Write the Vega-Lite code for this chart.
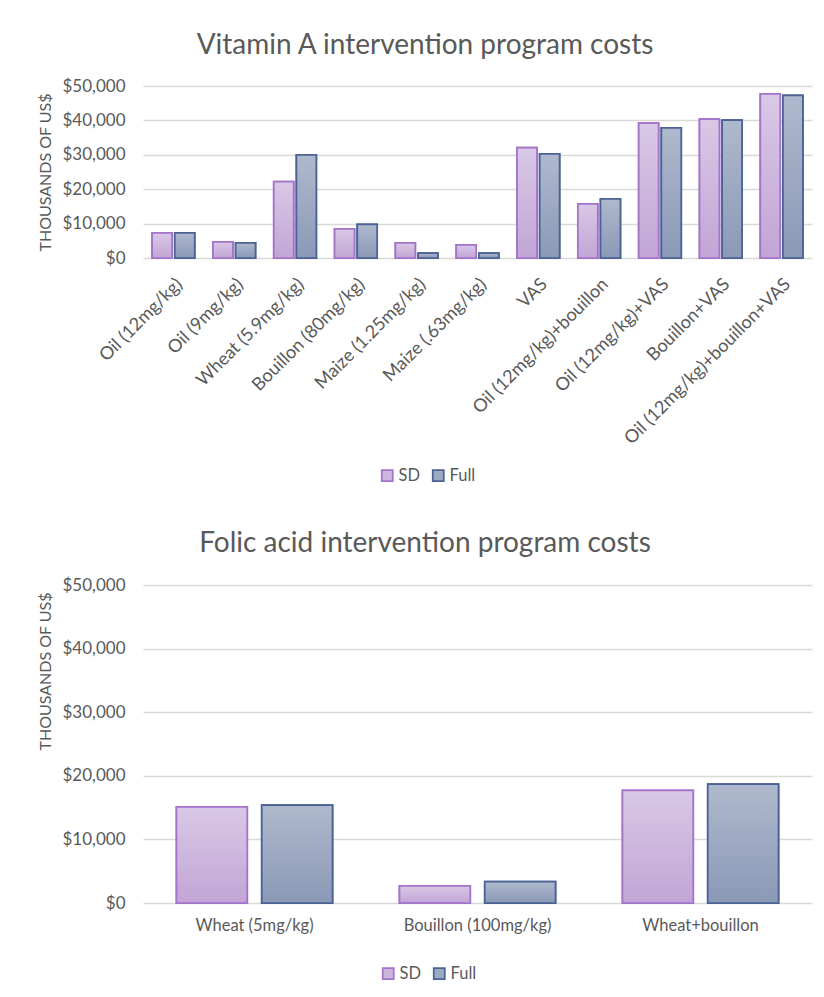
{
  "$schema": "https://vega.github.io/schema/vega-lite/v6.json",
  "background": "white",
  "padding": {"left": 37, "top": 32, "right": 6, "bottom": 8},
  "spacing": 45,
  "config": {
    "font": "Lato",
    "view": {"stroke": null},
    "title": {"color": "#595959", "fontSize": 28, "fontWeight": "normal", "font": "Lato", "anchor": "middle", "frame": "bounds", "baseline": "alphabetic"},
    "axis": {
      "labelColor": "#595959", "titleColor": "#595959", "labelFont": "Lato", "titleFont": "Lato",
      "gridColor": "#d9d9d9", "gridWidth": 1.5, "domain": false, "ticks": false, "labelLimit": 0
    },
    "legend": {
      "orient": "none", "direction": "horizontal", "title": null,
      "labelFont": "Lato", "labelFontSize": 16.5, "labelColor": "#595959",
      "symbolType": "square", "symbolSize": 121, "symbolStrokeWidth": 1.5,
      "columnPadding": 9, "labelOffset": 3
    },
    "bar": {"strokeWidth": 1.75}
  },
  "vconcat": [
    {
      "title": {"text": "Vitamin A intervention program costs", "offset": 17},
      "width": 669,
      "height": 172,
      "data": {
        "values": [
          {"program": "Oil (12mg/kg)", "series": "SD", "cost": 7300},
          {"program": "Oil (12mg/kg)", "series": "Full", "cost": 7300},
          {"program": "Oil (9mg/kg)", "series": "SD", "cost": 4700},
          {"program": "Oil (9mg/kg)", "series": "Full", "cost": 4400},
          {"program": "Wheat (5.9mg/kg)", "series": "SD", "cost": 22200},
          {"program": "Wheat (5.9mg/kg)", "series": "Full", "cost": 30000},
          {"program": "Bouillon (80mg/kg)", "series": "SD", "cost": 8500},
          {"program": "Bouillon (80mg/kg)", "series": "Full", "cost": 9800},
          {"program": "Maize (1.25mg/kg)", "series": "SD", "cost": 4400},
          {"program": "Maize (1.25mg/kg)", "series": "Full", "cost": 1450},
          {"program": "Maize (.63mg/kg)", "series": "SD", "cost": 3800},
          {"program": "Maize (.63mg/kg)", "series": "Full", "cost": 1450},
          {"program": "VAS", "series": "SD", "cost": 32100},
          {"program": "VAS", "series": "Full", "cost": 30300},
          {"program": "Oil (12mg/kg)+bouillon", "series": "SD", "cost": 15700},
          {"program": "Oil (12mg/kg)+bouillon", "series": "Full", "cost": 17200},
          {"program": "Oil (12mg/kg)+VAS", "series": "SD", "cost": 39200},
          {"program": "Oil (12mg/kg)+VAS", "series": "Full", "cost": 37800},
          {"program": "Bouillon+VAS", "series": "SD", "cost": 40400},
          {"program": "Bouillon+VAS", "series": "Full", "cost": 40100},
          {"program": "Oil (12mg/kg)+bouillon+VAS", "series": "SD", "cost": 47700},
          {"program": "Oil (12mg/kg)+bouillon+VAS", "series": "Full", "cost": 47300}
        ]
      },
      "encoding": {
        "x": {
          "field": "program", "type": "nominal", "sort": null,
          "scale": {"paddingInner": 0.3, "paddingOuter": 0.15},
          "axis": {"title": null, "labelAngle": -45, "labelFontSize": 18, "labelPadding": 17, "grid": false}
        },
        "xOffset": {"field": "series", "type": "nominal", "scale": {"domain": ["SD", "Full"], "paddingInner": 0.12, "paddingOuter": 0}},
        "y": {
          "field": "cost", "type": "quantitative",
          "scale": {"domain": [0, 50000]},
          "axis": {
            "title": "THOUSANDS OF US$", "titleFontSize": 16, "titleFontWeight": "normal", "titlePadding": 8,
            "labelFontSize": 17, "labelPadding": 18, "format": "$,.0f",
            "values": [0, 10000, 20000, 30000, 40000, 50000]
          }
        }
      },
      "layer": [
        {
          "mark": {"type": "bar"},
          "encoding": {
            "fill": {"field": "series", "type": "nominal", "scale": {"domain": ["SD", "Full"], "range": ["#cdb6de", "#9daac3"]}, "legend": {"legendX": 236, "legendY": 381}},
            "stroke": {"field": "series", "type": "nominal", "scale": {"domain": ["SD", "Full"], "range": ["#a473cc", "#4b6394"]}, "legend": {"legendX": 236, "legendY": 381}}
          }
        },
        {
          "mark": {"type": "bar"},
          "encoding": {
            "fill": {
              "condition": {"test": "datum.series === 'SD'", "value": {"gradient": "linear", "x1": 0, "y1": 0, "x2": 0, "y2": 1, "stops": [{"offset": 0, "color": "#d9c8e6"}, {"offset": 1, "color": "#c2a5d5"}]}},
              "value": {"gradient": "linear", "x1": 0, "y1": 0, "x2": 0, "y2": 1, "stops": [{"offset": 0, "color": "#afb9cd"}, {"offset": 1, "color": "#8b99b7"}]}
            },
            "stroke": {"condition": {"test": "datum.series === 'SD'", "value": "#a473cc"}, "value": "#4b6394"}
          }
        }
      ]
    },
    {
      "title": {"text": "Folic acid intervention program costs", "offset": 18},
      "width": 669,
      "height": 318,
      "data": {
        "values": [
          {"program": "Wheat (5mg/kg)", "series": "SD", "cost": 15100},
          {"program": "Wheat (5mg/kg)", "series": "Full", "cost": 15400},
          {"program": "Bouillon (100mg/kg)", "series": "SD", "cost": 2700},
          {"program": "Bouillon (100mg/kg)", "series": "Full", "cost": 3350},
          {"program": "Wheat+bouillon", "series": "SD", "cost": 17700},
          {"program": "Wheat+bouillon", "series": "Full", "cost": 18700}
        ]
      },
      "encoding": {
        "x": {
          "field": "program", "type": "nominal", "sort": null,
          "scale": {"paddingInner": 0.3, "paddingOuter": 0.15},
          "axis": {"title": null, "labelAngle": 0, "labelFontSize": 16.5, "labelPadding": 14, "grid": false}
        },
        "xOffset": {"field": "series", "type": "nominal", "scale": {"domain": ["SD", "Full"], "paddingInner": 0.17, "paddingOuter": 0}},
        "y": {
          "field": "cost", "type": "quantitative",
          "scale": {"domain": [0, 50000]},
          "axis": {
            "title": "THOUSANDS OF US$", "titleFontSize": 16, "titleFontWeight": "normal", "titlePadding": 8,
            "titleY": 86, "titleAnchor": "middle",
            "labelFontSize": 17, "labelPadding": 18, "format": "$,.0f",
            "values": [0, 10000, 20000, 30000, 40000, 50000]
          }
        }
      },
      "layer": [
        {
          "mark": {"type": "bar"},
          "encoding": {
            "fill": {"field": "series", "type": "nominal", "scale": {"domain": ["SD", "Full"], "range": ["#cdb6de", "#9daac3"]}, "legend": {"legendX": 237, "legendY": 380}},
            "stroke": {"field": "series", "type": "nominal", "scale": {"domain": ["SD", "Full"], "range": ["#a473cc", "#4b6394"]}, "legend": {"legendX": 237, "legendY": 380}}
          }
        },
        {
          "mark": {"type": "bar"},
          "encoding": {
            "fill": {
              "condition": {"test": "datum.series === 'SD'", "value": {"gradient": "linear", "x1": 0, "y1": 0, "x2": 0, "y2": 1, "stops": [{"offset": 0, "color": "#d9c8e6"}, {"offset": 1, "color": "#c2a5d5"}]}},
              "value": {"gradient": "linear", "x1": 0, "y1": 0, "x2": 0, "y2": 1, "stops": [{"offset": 0, "color": "#afb9cd"}, {"offset": 1, "color": "#8b99b7"}]}
            },
            "stroke": {"condition": {"test": "datum.series === 'SD'", "value": "#a473cc"}, "value": "#4b6394"}
          }
        }
      ]
    }
  ],
  "resolve": {"scale": {"x": "independent", "y": "independent", "xOffset": "independent", "fill": "independent", "stroke": "independent"}}
}
